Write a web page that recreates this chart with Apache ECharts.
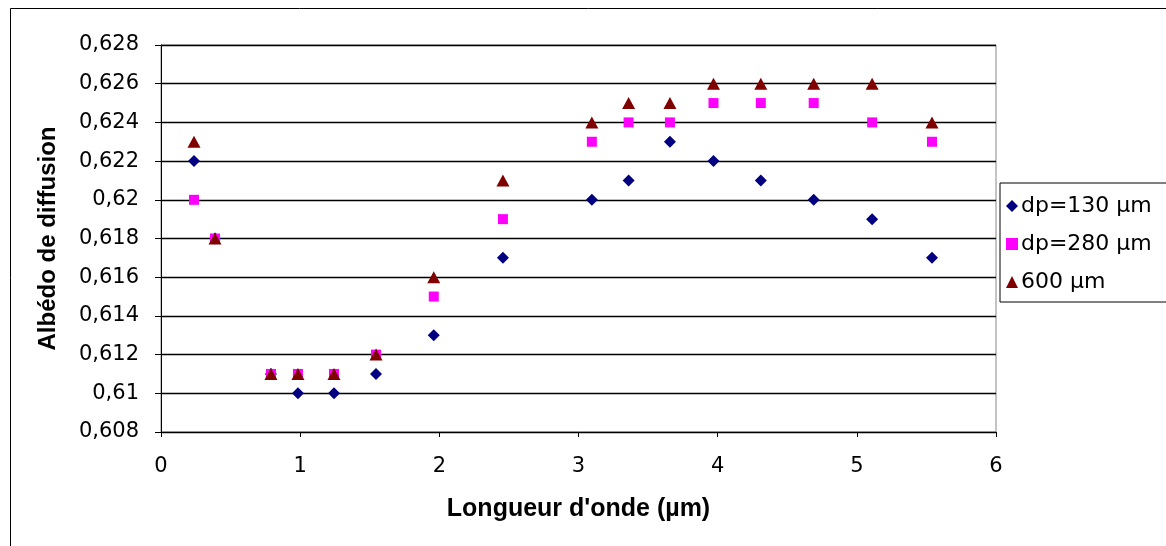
<!DOCTYPE html>
<html>
<head>
<meta charset="utf-8">
<script src="https://cdn.jsdelivr.net/npm/echarts@6/dist/echarts.min.js"></script>
<style>
  html, body { margin: 0; padding: 0; background: #fff; }
  #chart { width: 1166px; height: 546px; }
</style>
</head>
<body>
<div id="chart"></div>
<script>
// Wavelength (µm) of each measurement
const wavelengths = [0.237, 0.388, 0.79, 0.984, 1.243, 1.545, 1.96, 2.457, 3.096, 3.36, 3.657, 3.97, 4.31, 4.69, 5.11, 5.54];

// Scattering albedo per particle diameter
const albedo130 = [0.622, 0.618, 0.611, 0.610, 0.610, 0.611, 0.613, 0.617, 0.620, 0.621, 0.623, 0.622, 0.621, 0.620, 0.619, 0.617];
const albedo280 = [0.620, 0.618, 0.611, 0.611, 0.611, 0.612, 0.615, 0.619, 0.623, 0.624, 0.624, 0.625, 0.625, 0.625, 0.624, 0.623];
const albedo600 = [0.623, 0.618, 0.611, 0.611, 0.611, 0.612, 0.616, 0.621, 0.624, 0.625, 0.625, 0.626, 0.626, 0.626, 0.626, 0.624];

const seriesNames = ['dp=130 µm', 'dp=280 µm', '600 µm'];

const pairs = ys => wavelengths.map((x, i) => [x, ys[i]]);
const fmtComma = v => String(parseFloat(v.toFixed(3))).replace('.', ',');

const font = 'DejaVu Sans, sans-serif';
const boldFont = 'Liberation Sans, Arial, sans-serif';
const chart = echarts.init(document.getElementById('chart'));

chart.setOption({
  animation: false,
  backgroundColor: '#fff',
  graphic: [{
    type: 'rect',
    left: 8, top: 6,
    shape: { width: 1170, height: 560 },
    style: { fill: 'none', stroke: '#000', lineWidth: 1 },
    silent: true
  }],
  grid: {
    left: 161, top: 45, width: 835, height: 387,
    show: true, borderColor: '#888', borderWidth: 1, backgroundColor: '#fff'
  },
  legend: {
    orient: 'vertical',
    left: 1000, top: 183,
    padding: [12, 60, 9, 6],
    itemGap: 16,
    itemWidth: 12, itemHeight: 12,
    borderColor: '#000', borderWidth: 1,
    borderRadius: 0,
    backgroundColor: '#fff',
    textStyle: { fontFamily: font, fontSize: 22, color: '#000', padding: [0, 0, 0, -2] },
    data: seriesNames
  },
  xAxis: {
    type: 'value',
    min: 0, max: 6, interval: 1,
    name: "Longueur d'onde (µm)",
    nameLocation: 'middle',
    nameGap: 65,
    nameTextStyle: { fontFamily: boldFont, fontSize: 25, fontWeight: 'bold', color: '#000' },
    axisLine: { show: true, onZero: false, lineStyle: { color: '#000', width: 1 } },
    axisTick: { show: true, length: 5, lineStyle: { color: '#000' } },
    axisLabel: { fontFamily: font, fontSize: 21, color: '#000', margin: 24 },
    splitLine: { show: false }
  },
  yAxis: {
    type: 'value',
    min: 0.608, max: 0.628, interval: 0.002,
    name: 'Albédo de diffusion',
    nameLocation: 'middle',
    nameGap: 101,
    nameRotate: 90,
    nameTextStyle: { fontFamily: boldFont, fontSize: 24, fontWeight: 'bold', color: '#000' },
    axisLine: { show: true, onZero: false, lineStyle: { color: '#000', width: 1 } },
    axisTick: { show: true, length: 6, lineStyle: { color: '#000' } },
    axisLabel: { fontFamily: font, fontSize: 21, color: '#000', margin: 22, formatter: fmtComma },
    splitLine: { show: true, lineStyle: { color: '#000', width: 1.4 } }
  },
  series: [
    {
      name: seriesNames[0], type: 'scatter', data: pairs(albedo130),
      symbol: 'diamond', symbolSize: 12,
      itemStyle: { color: '#000080', opacity: 1 }
    },
    {
      name: seriesNames[1], type: 'scatter', data: pairs(albedo280),
      symbol: 'rect', symbolSize: 10,
      itemStyle: { color: '#FF00FF', opacity: 1 }
    },
    {
      name: seriesNames[2], type: 'scatter', data: pairs(albedo600),
      symbol: 'triangle', symbolSize: [13, 12],
      itemStyle: { color: '#800000', opacity: 1 }
    }
  ]
});
</script>
</body>
</html>
